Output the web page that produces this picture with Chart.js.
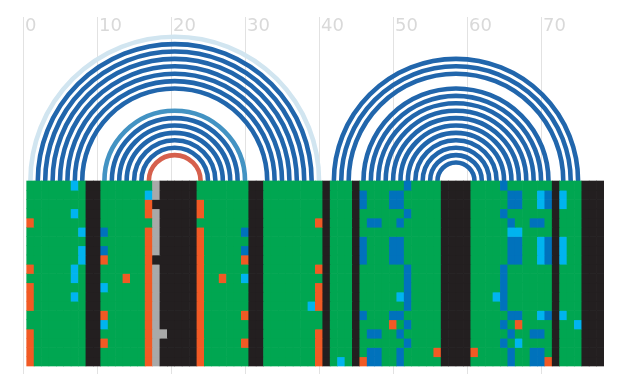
<!DOCTYPE html>
<html>
<head>
<meta charset="utf-8">
<script src="https://cdn.jsdelivr.net/npm/chart.js@4.4.1/dist/chart.umd.min.js"></script>
<style>
  html, body { margin: 0; padding: 0; background: #fff; }
  #wrap { width: 624px; height: 388px; }
</style>
</head>
<body>
<div id="wrap"><canvas id="myChart"></canvas></div>
<script>
// alignment, one letter per column (78 columns), one string per sequence
// G = match, K = gap, O / C / B = substitutions, Y = other
const rows = [
  "GGGGGGCGKK GGGGGGGYKK KKKGGGGGGG KKGGGGGGGG KGGGKGGGGG GBGGGGKKKK GGGGBGGGGG GKGGGKKK",
  "GGGGGGGGKK GGGGGGCYKK KKKGGGGGGG KKGGGGGGGG KGGGKBGGGB BGGGGGKKKK GGGGGBBGGC BKCGGKKK",
  "GGGGGGGGKK GGGGGGOKKK KKKOGGGGGG KKGGGGGGGG KGGGKBGGGB BGGGGGKKKK GGGGGBBGGC BKCGGKKK",
  "GGGGGGCGKK GGGGGGOYKK KKKOGGGGGG KKGGGGGGGG KGGGKGGGGG GBGGGGKKKK GGGGBGGGGG GKGGGKKK",
  "OGGGGGGGKK GGGGGGGYKK KKKGGGGGGG KKGGGGGGGO KGGGKGBBGG BGGGGGKKKK GGGGGBGGBB GKGGGKKK",
  "GGGGGGGCKK BGGGGGOYKK KKKOGGGGGB KKGGGGGGGG KGGGKGGGGG GGGGGGKKKK GGGGGCCGGG GKGGGKKK",
  "GGGGGGGGKK GGGGGGOYKK KKKOGGGGGG KKGGGGGGGG KGGGKBGGGB BGGGGGKKKK GGGGGBBGGC BKCGGKKK",
  "GGGGGGGCKK BGGGGGOYKK KKKOGGGGGB KKGGGGGGGG KGGGKBGGGB BGGGGGKKKK GGGGGBBGGC BKCGGKKK",
  "GGGGGGGCKK OGGGGGOKKK KKKOGGGGGO KKGGGGGGGG KGGGKBGGGB BGGGGGKKKK GGGGGBBGGC BKCGGKKK",
  "OGGGGGCGKK GGGGGGOYKK KKKOGGGGGG KKGGGGGGGO KGGGKGGGGG GBGGGGKKKK GGGGBGGGGG GKGGGKKK",
  "GGGGGGCGKK GGGOGGOYKK KKKOGGOGGC KKGGGGGGGG KGGGKGGGGG GBGGGGKKKK GGGGBGGGGG GKGGGKKK",
  "OGGGGGGGKK CGGGGGOYKK KKKOGGGGGG KKGGGGGGGO KGGGKGGGGG GBGGGGKKKK GGGGBGGGGG GKGGGKKK",
  "OGGGGGCGKK GGGGGGOYKK KKKOGGGGGG KKGGGGGGGO KGGGKGGGGG CBGGGGKKKK GGGCBGGGGG GKGGGKKK",
  "OGGGGGGGKK GGGGGGOYKK KKKOGGGGGG KKGGGGGGCO KGGGKGGGGG GBGGGGKKKK GGGGBGGGGG GKGGGKKK",
  "GGGGGGGGKK OGGGGGOYKK KKKOGGGGGO KKGGGGGGGG KGGGKBGGGB BGGGGGKKKK GGGGGBBGGC BKCGGKKK",
  "GGGGGGGGKK CGGGGGOYKK KKKOGGGGGG KKGGGGGGGG KGGGKGGGGO GBGGGGKKKK GGGGBGOGGG GKGGCKKK",
  "OGGGGGGGKK GGGGGGOYYK KKKOGGGGGG KKGGGGGGGO KGGGKGBBGG BGGGGGKKKK GGGGGBGGBB GKGGGKKK",
  "OGGGGGGGKK OGGGGGOYKK KKKOGGGGGO KKGGGGGGGO KGGGKGGGGG GBGGGGKKKK GGGGBGCGGG GKGGGKKK",
  "OGGGGGGGKK GGGGGGOYKK KKKOGGGGGG KKGGGGGGGO KGGGKGBBGG BGGGGOKKKK OGGGGBGGBB GKGGGKKK",
  "OGGGGGGGKK GGGGGGOYKK KKKOGGGGGG KKGGGGGGGO KGCGKOBBGG BGGGGGKKKK GGGGGBGGBB OKGGGKKK"
];

// base pairs: 5' column, 3' column, arc type
const pair5 = [1, 2, 3, 4, 5, 6, 7, 8, 11, 12, 13, 14, 15, 16, 17,
  42, 43, 44, 46, 47, 48, 49, 50, 51, 52, 53, 54, 55, 56];
const pair3 = [40, 39, 38, 37, 36, 35, 34, 33, 30, 29, 28, 27, 26, 25, 24,
  75, 74, 73, 71, 70, 69, 68, 67, 66, 65, 64, 63, 62, 61];
const pairType = "LDDDDDDDMDDDDDRDDDDDDDDDDDDDD";

const tickLabels = [0, 10, 20, 30, 40, 50, 60, 70];

const cellColors = {
  G: "#00a651",
  K: "#231f20",
  O: "#f15a24",
  C: "#00b4ef",
  B: "#0072bc",
  Y: "#a9a9a9"
};
const arcColors = { L: "#d1e5f0", D: "#2166ac", M: "#4393c3", R: "#d6604d" };

const datasets = rows.map((line, r) => {
  const cells = line.replace(/ /g, "").split("");
  return {
    type: "bar",
    label: "seq " + (r + 1),
    data: cells.map((ch, i) => ({ x: i + 1, y: [r, r + 1] })),
    backgroundColor: cells.map(ch => cellColors[ch]),
    borderWidth: 0,
    barPercentage: 1,
    categoryPercentage: 1,
    grouped: false
  };
});

// arcs for base pairs, drawn from the x scale, sitting on top of the alignment
const arcPlugin = {
  id: "arcs",
  beforeDatasetsDraw(chart) {
    const { ctx, scales: { x, y } } = chart;
    const base = y.getPixelForValue(0);
    ctx.save();
    ctx.lineWidth = 4.6;
    pair5.forEach((a, k) => {
      const xa = x.getPixelForValue(a);
      const xb = x.getPixelForValue(pair3[k]);
      ctx.strokeStyle = arcColors[pairType[k]];
      ctx.beginPath();
      ctx.arc((xa + xb) / 2, base, (xb - xa) / 2, Math.PI, 2 * Math.PI);
      ctx.stroke();
    });
    ctx.restore();
  }
};

// position labels inside the plot, right of each grid line
const topLabels = {
  id: "topLabels",
  afterDatasetsDraw(chart) {
    const { ctx, chartArea, scales: { x } } = chart;
    ctx.save();
    ctx.font = '18px "DejaVu Sans", sans-serif';
    ctx.fillStyle = "#d9d9d9";
    ctx.textAlign = "left";
    ctx.textBaseline = "alphabetic";
    tickLabels.forEach(v => {
      ctx.fillText(String(v), x.getPixelForValue(v) + 2, chartArea.top + 13.5);
    });
    ctx.restore();
  }
};

new Chart(document.getElementById("myChart"), {
  type: "bar",
  data: { datasets: datasets },
  plugins: [arcPlugin, topLabels],
  options: {
    responsive: true,
    maintainAspectRatio: false,
    animation: false,
    layout: { padding: { top: 17, left: 23, right: 20, bottom: 14 } },
    plugins: {
      legend: { display: false },
      tooltip: { enabled: false }
    },
    scales: {
      x: {
        type: "linear",
        position: "top",
        offset: false,
        min: 0,
        max: 78.5,
        ticks: { display: false, stepSize: 10, includeBounds: false },
        grid: { color: "#e2e2e2", lineWidth: 1, drawTicks: false, offset: false },
        border: { display: false }
      },
      y: {
        type: "linear",
        display: false,
        reverse: true,
        min: -17.73,
        max: 20.865
      }
    }
  }
});
</script>
</body>
</html>
